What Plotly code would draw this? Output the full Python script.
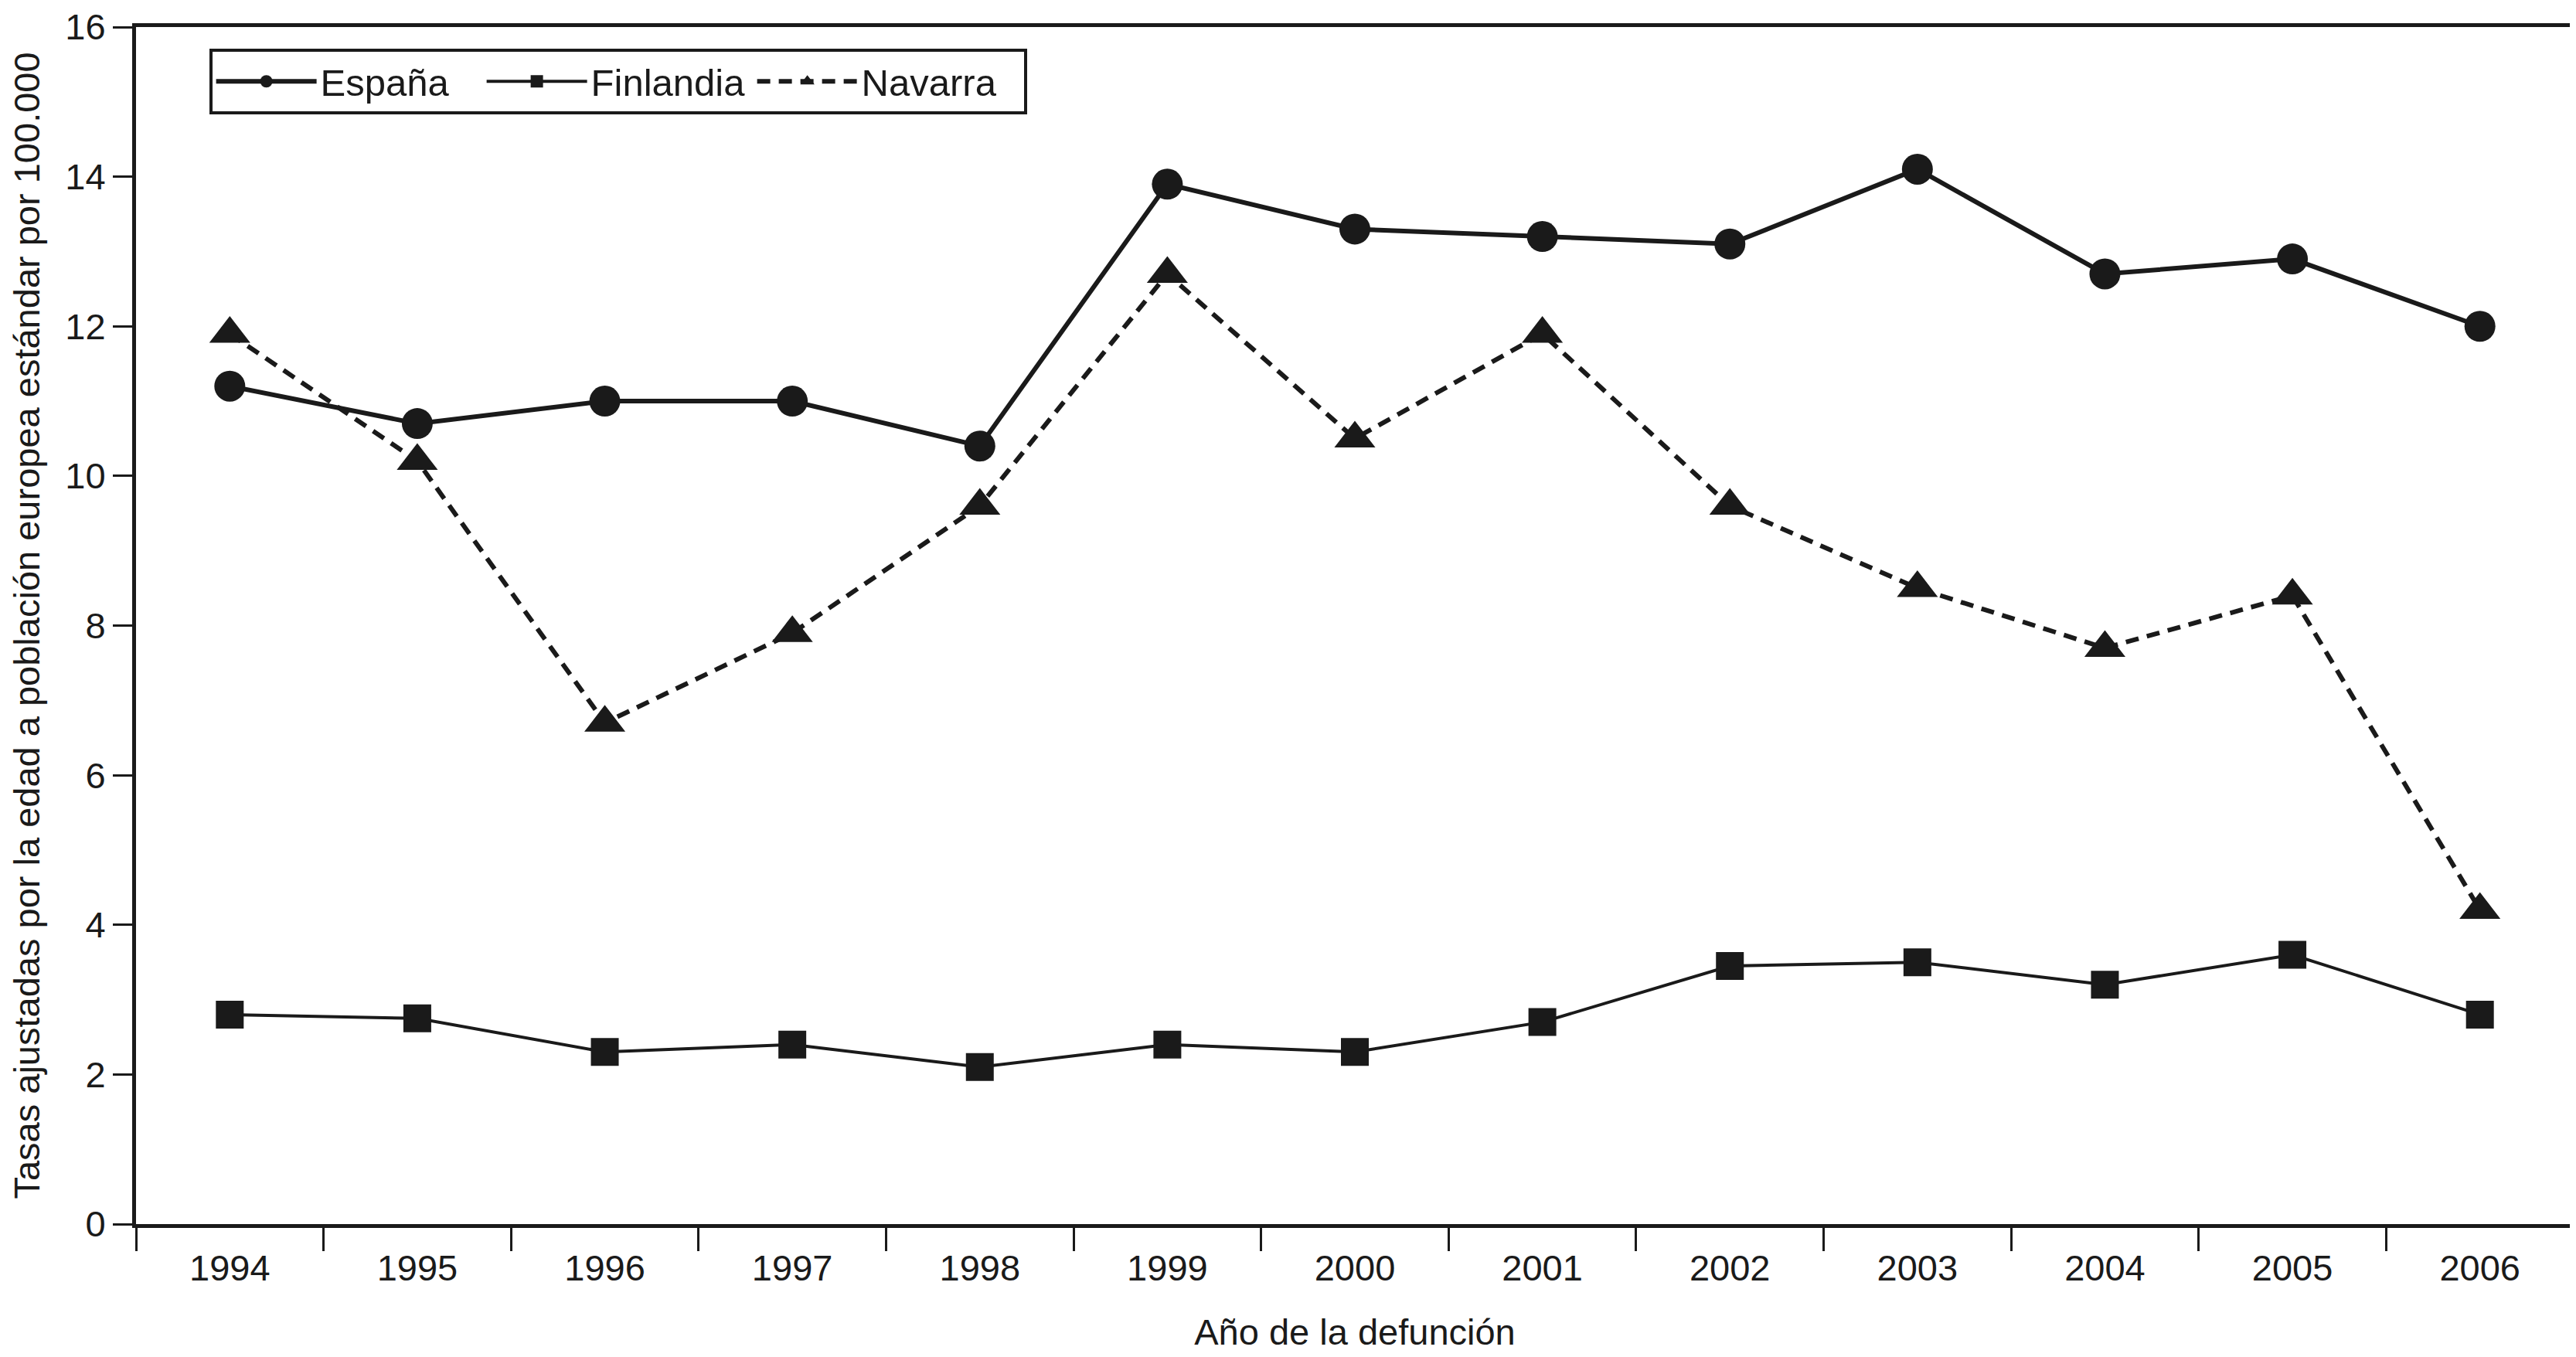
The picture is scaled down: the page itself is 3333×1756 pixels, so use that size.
import plotly.graph_objects as go

years = ["1994", "1995", "1996", "1997", "1998", "1999", "2000",
         "2001", "2002", "2003", "2004", "2005", "2006"]
espana = [11.2, 10.7, 11.0, 11.0, 10.4, 13.9, 13.3, 13.2, 13.1, 14.1, 12.7, 12.9, 12.0]
finlandia = [2.8, 2.75, 2.3, 2.4, 2.1, 2.4, 2.3, 2.7, 3.45, 3.5, 3.2, 3.6, 2.8]
navarra = [11.9, 10.2, 6.7, 7.9, 9.6, 12.7, 10.5, 11.9, 9.6, 8.5, 7.7, 8.4, 4.2]

INK = "#1a1a1a"
FONT = "Liberation Sans, Arial, sans-serif"

fig = go.Figure()
fig.add_trace(go.Scatter(
    x=years, y=espana, name="España", mode="lines+markers",
    line=dict(color=INK, width=6),
    marker=dict(symbol="circle", size=40, color=INK)))
fig.add_trace(go.Scatter(
    x=years, y=finlandia, name="Finlandia", mode="lines+markers",
    line=dict(color=INK, width=4),
    marker=dict(symbol="square", size=36, color=INK)))
fig.add_trace(go.Scatter(
    x=years, y=navarra, name="Navarra", mode="lines+markers",
    line=dict(color=INK, width=6, dash="17px,11px"),
    marker=dict(symbol="triangle-up", size=46, color=INK)))

fig.update_layout(
    width=3333, height=1756,
    paper_bgcolor="white", plot_bgcolor="white",
    margin=dict(l=168, r=11, t=27, b=180, autoexpand=False),
    font=dict(family=FONT, size=47, color=INK),
    showlegend=True,
    legend=dict(
        orientation="h", x=0.03, y=0.982, xanchor="left", yanchor="top",
        bordercolor=INK, borderwidth=4, bgcolor="white",
        font=dict(family=FONT, size=49, color=INK),
        itemwidth=130, entrywidth=205, entrywidthmode="pixels",
        tracegroupgap=0, itemsizing="trace"),
    xaxis=dict(
        type="category", range=[-0.5, 12.5], automargin=False,
        tickson="boundaries", ticks="outside", ticklen=30, tickwidth=3,
        tickcolor=INK, showline=True, linecolor=INK, linewidth=5, mirror=True,
        showgrid=False, zeroline=False, ticklabelstandoff=12,
        tickfont=dict(size=47),
        title=dict(text="Año de la defunción", font=dict(size=47), standoff=42)),
    yaxis=dict(
        range=[0, 16], dtick=2, tick0=0, automargin=False,
        ticks="outside", ticklen=25, tickwidth=3, tickcolor=INK,
        showline=True, linecolor=INK, linewidth=5, mirror=True,
        showgrid=False, zeroline=False, ticklabeloverflow="allow",
        tickfont=dict(size=47),
        title=dict(text="Tasas ajustadas por la edad a población europea estándar por 100.000",
                   font=dict(size=47), standoff=38)),
)

fig.write_html("out.html")
